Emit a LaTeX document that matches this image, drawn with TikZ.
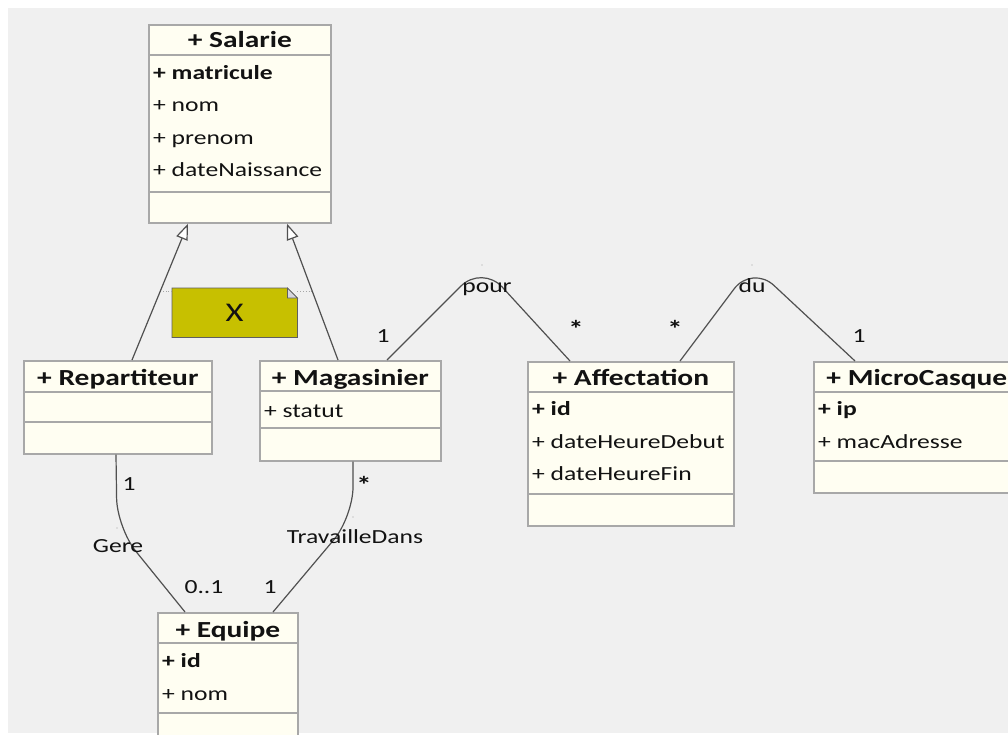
\documentclass[tikz,border=0pt]{standalone}
\usepackage{fontspec}
\setmainfont{Carlito}[FakeStretch=1.28]
\usetikzlibrary{arrows.meta,calc}

\definecolor{canvas}{RGB}{240,240,240}
\definecolor{cream}{RGB}{255,254,242}
\definecolor{frame}{RGB}{168,168,168}
\definecolor{wire}{RGB}{80,80,80}
\definecolor{ink}{RGB}{18,18,18}
\definecolor{noteolive}{RGB}{199,192,0}
\definecolor{noteedge}{RGB}{95,95,95}
\definecolor{foldgray}{RGB}{214,214,222}

% horizontal compartment line across a class box, #2 pt below its top
\newcommand\compline[2]{\draw[compsep] ($(#1.north west)+(0,#2)$) -- ($(#1.north east)+(0,#2)$);}

\begin{document}
\begin{tikzpicture}[x=1pt,y=-1pt,
  cls/.style={draw=frame, line width=1.7pt, fill=cream, inner sep=0pt, anchor=north west},
  compsep/.style={draw=frame, line width=1.7pt},
  ctitle/.style={anchor=base, font=\fontsize{23}{27}\selectfont\bfseries, text=ink, inner sep=0pt},
  cattr/.style={anchor=base west, font=\fontsize{20}{24}\selectfont, text=ink, inner sep=0pt},
  assoc/.style={draw=wire, line width=1.2pt, rounded corners=30pt},
  gen/.style={draw=wire, line width=1.2pt, -{Triangle[fill=white, length=16pt, width=12pt]}},
  lbl/.style={font=\fontsize{20}{24}\selectfont, text=ink, inner sep=0pt},
  star/.style={font=\fontsize{24}{28}\selectfont\bfseries, text=ink, inner sep=0pt},
  notelink/.style={draw=gray!70, line width=0.8pt, dotted},
  bendmark/.style={fill=gray!75},
]
\useasboundingbox (0,0) rectangle (1008,735);
\clip (0,0) rectangle (1008,735);
\fill[white] (0,0) rectangle (1008,735);
\fill[canvas] (8,8) rectangle (1008,733);

% ---- Salarie
\node[cls, minimum width=182pt, minimum height=198pt] (salarie) at (148,24) {};
\compline{salarie}{31}
\compline{salarie}{168}
\node[ctitle] (salarie-name) at ($(salarie.north)+(0,24)$) {+ Salarie};
\node[cattr] (salarie-a1) at ($(salarie.north west)+(5,56)$) {\bfseries + matricule};
\node[cattr] (salarie-a2) at ($(salarie.north west)+(5,88)$) {+ nom};
\node[cattr] (salarie-a3) at ($(salarie.north west)+(5,121)$) {+ prenom};
\node[cattr] (salarie-a4) at ($(salarie.north west)+(5,153)$) {+ dateNaissance};

% ---- Repartiteur
\node[cls, minimum width=188pt, minimum height=93pt] (repartiteur) at (23,360) {};
\compline{repartiteur}{32}
\compline{repartiteur}{62}
\node[ctitle] (repartiteur-name) at ($(repartiteur.north)+(0,25)$) {+ Repartiteur};

% ---- Magasinier
\node[cls, minimum width=181pt, minimum height=100pt] (magasinier) at (259,360) {};
\compline{magasinier}{31}
\compline{magasinier}{68}
\node[ctitle] (magasinier-name) at ($(magasinier.north)+(0,25)$) {+ Magasinier};
\node[cattr] (magasinier-a1) at ($(magasinier.north west)+(5,57)$) {+ statut};

% ---- Affectation
\node[cls, minimum width=206pt, minimum height=164pt] (affectation) at (527,361) {};
\compline{affectation}{31}
\compline{affectation}{133}
\node[ctitle] (affectation-name) at ($(affectation.north)+(0,24)$) {+ Affectation};
\node[cattr] (affectation-a1) at ($(affectation.north west)+(5,54)$) {\bfseries + id};
\node[cattr] (affectation-a2) at ($(affectation.north west)+(5,87)$) {+ dateHeureDebut};
\node[cattr] (affectation-a3) at ($(affectation.north west)+(5,119)$) {+ dateHeureFin};

% ---- MicroCasque
\node[cls, minimum width=206pt, minimum height=131pt] (micro) at (813,361) {};
\compline{micro}{31}
\compline{micro}{100}
\node[ctitle] (micro-name) at ($(micro.north)+(0,24)$) {+ MicroCasque};
\node[cattr] (micro-a1) at ($(micro.north west)+(5,54)$) {\bfseries + ip};
\node[cattr] (micro-a2) at ($(micro.north west)+(5,87)$) {+ macAdresse};

% ---- Equipe
\node[cls, minimum width=140pt, minimum height=150pt] (equipe) at (157,612) {};
\compline{equipe}{31}
\compline{equipe}{101}
\node[ctitle] (equipe-name) at ($(equipe.north)+(0,25)$) {+ Equipe};
\node[cattr] (equipe-a1) at ($(equipe.north west)+(5,55)$) {\bfseries + id};
\node[cattr] (equipe-a2) at ($(equipe.north west)+(5,88)$) {+ nom};

% ---- note with folded corner
\node[inner sep=0pt, minimum width=125pt, minimum height=49pt, anchor=north west] (note) at (172,288) {};
\filldraw[fill=noteolive, draw=noteedge, line width=0.8pt]
  (note.north west) -- ($(note.north east)+(-10,0)$) -- ($(note.north east)+(0,10)$)
  -- (note.south east) -- (note.south west) -- cycle;
\filldraw[fill=foldgray, draw=noteedge, line width=0.8pt]
  ($(note.north east)+(-10,0)$) -- ($(note.north east)+(-10,10)$) -- ($(note.north east)+(0,10)$) -- cycle;
\node[font=\fontsize{27}{30}\selectfont, text=ink, inner sep=0pt] (note-text) at (note.center) {X};
\draw[notelink] ($(note.north west)+(0,3)$) -- ++(-12,0);
\draw[notelink] ($(note.north east)+(0,3)$) -- ++(16,0);

% ---- generalisations
\draw[gen] ($(repartiteur.north west)+(109,0)$) -- ($(salarie.south west)+(40,0)$);
\draw[gen] ($(magasinier.north west)+(79,0)$) -- ($(salarie.south west)+(139,0)$);

% ---- associations
\coordinate (pour-bend) at (482,265);
\coordinate (du-bend) at (752,265);
\coordinate (gere-bend) at (117,528);
\coordinate (trav-bend) at (353,517);

\draw[assoc] ($(magasinier.north west)+(128,0)$) -- (pour-bend) -- ($(affectation.north west)+(43,0)$);
\draw[assoc] ($(affectation.north west)+(153,0)$) -- (du-bend) -- ($(micro.north west)+(42,0)$);
\draw[assoc] ($(repartiteur.south west)+(93,0)$) -- (gere-bend) -- ($(equipe.north west)+(28,0)$);
\draw[assoc] ($(magasinier.south west)+(94,0)$) -- (trav-bend) -- ($(equipe.north west)+(116,0)$);

\fill[bendmark] (pour-bend) circle (0.7pt);
\fill[bendmark] (du-bend) circle (0.7pt);
\fill[bendmark] (gere-bend) circle (0.7pt);
\fill[bendmark] (trav-bend) circle (0.7pt);

% ---- association names and multiplicities
\node[lbl, anchor=base] (pour-name) at (487,292) {pour};
\node[lbl, anchor=base] (du-name) at (752,292) {du};
\node[lbl, anchor=base] (gere-name) at (118,552) {Gere};
\node[lbl, anchor=base] (trav-name) at (355,543) {TravailleDans};

\node[lbl] (m-pour-mag) at (383,336) {1};
\node[star] (m-pour-aff) at (576,329) {*};
\node[star] (m-du-aff) at (675,329) {*};
\node[lbl] (m-du-mic) at (859,336) {1};
\node[lbl] (m-gere-rep) at (129,484) {1};
\node[lbl] (m-gere-eq) at (204,587) {0..1};
\node[star] (m-trav-mag) at (364,485) {*};
\node[lbl] (m-trav-eq) at (270,587) {1};
\end{tikzpicture}
\end{document}
